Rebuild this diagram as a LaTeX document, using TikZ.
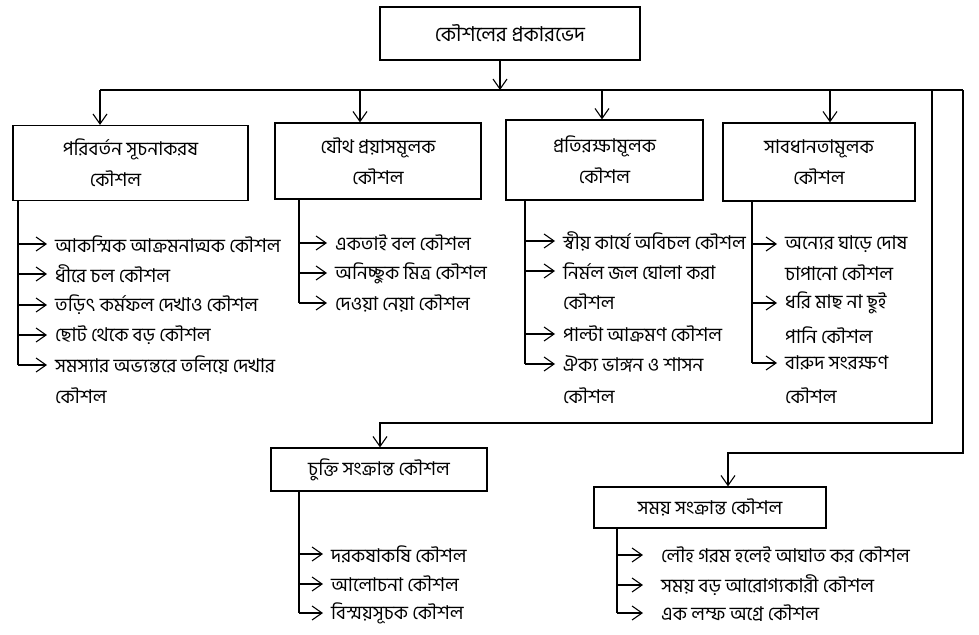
\documentclass[tikz,border=0pt]{standalone}
\usepackage{fontspec}
\newfontfamily\bn[Script=Bengali]{Hind Siliguri}
\usetikzlibrary{arrows.meta}
\begin{document}
\begin{tikzpicture}[x=1pt,y=-1pt,
  every node/.style={font=\bn\fontsize{19}{31}\selectfont},
  arr/.style={-{Straight Barb[length=10pt,width=14pt]}},
  ln/.style={line width=1.1pt},
  box/.style={draw,line width=1.2pt,inner sep=0pt,align=center},
  item/.style={anchor=west,inner sep=0pt,inner xsep=8pt}]
\useasboundingbox (0,0) rectangle (979,634);
% boxes
\node[box,minimum width=260pt,minimum height=53pt,font=\bn\fontsize{20.5}{31}\selectfont] (top) at (510,33.5) {কৌশলের প্রকারভেদ};
\node[box,minimum width=235pt,minimum height=75pt] (b1) at (130.5,163) {পরিবর্তন সূচনাকরষ\\\hspace*{-30pt}কৌশল};
\node[box,minimum width=206pt,minimum height=76pt] (b2) at (378,161) {যৌথ প্রয়াসমূলক\\কৌশল};
\node[box,minimum width=197pt,minimum height=80pt] (b3) at (604.5,160) {প্রতিরক্ষামূলক\\কৌশল};
\node[box,minimum width=192pt,minimum height=78pt] (b4) at (819,162) {সাবধানতামূলক\\কৌশল};
\node[box,minimum width=216pt,minimum height=43pt] (cb) at (379,469.5) {চুক্তি সংক্রান্ত কৌশল};
\node[box,minimum width=232pt,minimum height=41pt] (sb) at (710,507.5) {সময় সংক্রান্ত কৌশল};
% bus
\coordinate (busL) at (100,90);
\coordinate (busR) at (963,90);
\coordinate (d2) at (360,90);
\coordinate (d3) at (602,90);
\coordinate (d4) at (830,90);
\coordinate (r1) at (932,90);
\coordinate (k1) at (380,423);
\coordinate (k2) at (728,453);
\draw[ln,arr] (top.south -| 500,0) -- (busL -| 500,0);
\draw[ln] (busL) -- (busR);
\draw[ln,arr] (busL) -- (busL |- b1.north);
\draw[ln,arr] (d2) -- (d2 |- b2.north);
\draw[ln,arr] (d3) -- (d3 |- b3.north);
\draw[ln,arr] (d4) -- (d4 |- b4.north);
\draw[ln,arr] (r1) |- (k1) -- (k1 |- cb.north);
\draw[ln,arr] (busR) |- (k2) -- (k2 |- sb.north);
% column 1
\node[item] (a11) at (47,244) {আকস্মিক আক্রমনাত্মক কৌশল};
\node[item] (a12) at (47,274) {ধীরে চল কৌশল};
\node[item] (a13) at (47,305) {তড়িৎ কর্মফল দেখাও কৌশল};
\node[item] (a14) at (47,335) {ছোট থেকে বড় কৌশল};
\node[item] (a15) at (47,365) {সমস্যার অভ্যন্তরে তলিয়ে দেখার};
\node[item] (a15b) at (47,396) {কৌশল};
\coordinate (t1) at (18,0);
\draw[ln] (t1 |- b1.south) -- (t1 |- a15.west);
\foreach \n in {a11,a12,a13,a14,a15} \draw[ln,arr] (t1 |- \n.west) -- (\n.west);
% column 2
\node[item] (a21) at (327,243) {একতাই বল কৌশল};
\node[item] (a22) at (327,273) {অনিচ্ছুক মিত্র কৌশল};
\node[item] (a23) at (327,303) {দেওয়া নেয়া কৌশল};
\coordinate (t2) at (299,0);
\draw[ln] (t2 |- b2.south) -- (t2 |- a23.west);
\foreach \n in {a21,a22,a23} \draw[ln,arr] (t2 |- \n.west) -- (\n.west);
% column 3
\node[item] (a31) at (555,241) {স্বীয় কার্যে অবিচল কৌশল};
\node[item] (a32) at (555,271) {নির্মল জল ঘোলা করা};
\node[item] (a32b) at (555,302) {কৌশল};
\node[item] (a33) at (555,334) {পাল্টা আক্রমণ কৌশল};
\node[item] (a34) at (555,364) {ঐক্য ভাঙ্গন ও শাসন};
\node[item] (a34b) at (555,396) {কৌশল};
\coordinate (t3) at (525,0);
\draw[ln] (t3 |- b3.south) -- (t3 |- a34.west);
\foreach \n in {a31,a32,a33,a34} \draw[ln,arr] (t3 |- \n.west) -- (\n.west);
% column 4
\node[item] (a41) at (777,244) {অন্যের ঘাড়ে দোষ};
\node[item] (a41b) at (777,273) {চাপানো কৌশল};
\node[item] (a42) at (777,303) {ধরি মাছ না ছুই};
\node[item] (a42b) at (777,335) {পানি কৌশল};
\node[item] (a43) at (777,363) {বারুদ সংরক্ষণ};
\node[item] (a43b) at (777,396) {কৌশল};
\coordinate (t4) at (752,0);
\draw[ln] (t4 |- b4.south) -- (t4 |- a43.west);
\foreach \n in {a41,a42,a43} \draw[ln,arr] (t4 |- \n.west) -- (\n.west);
% column 5
\node[item] (a51) at (323,554) {দরকষাকষি কৌশল};
\node[item] (a52) at (323,584) {আলোচনা কৌশল};
\node[item] (a53) at (323,613) {বিস্ময়সূচক কৌশল};
\coordinate (t5) at (299,0);
\draw[ln] (t5 |- cb.south) -- (t5 |- a53.west);
\foreach \n in {a51,a52,a53} \draw[ln,arr] (t5 |- \n.west) -- (\n.west);
% column 6
\node[item,inner xsep=18pt] (a61) at (643,555) {লৌহ গরম হলেই আঘাত কর কৌশল};
\node[item,inner xsep=18pt] (a62) at (643,585) {সময় বড় আরোগ্যকারী কৌশল};
\node[item,inner xsep=18pt] (a63) at (643,613) {এক লম্ফ অগ্রে কৌশল};
\coordinate (t6) at (617,0);
\draw[ln] (t6 |- sb.south) -- (t6 |- a63.west);
\foreach \n in {a61,a62,a63} \draw[ln,arr] (t6 |- \n.west) -- (\n.west);
\end{tikzpicture}
\end{document}
